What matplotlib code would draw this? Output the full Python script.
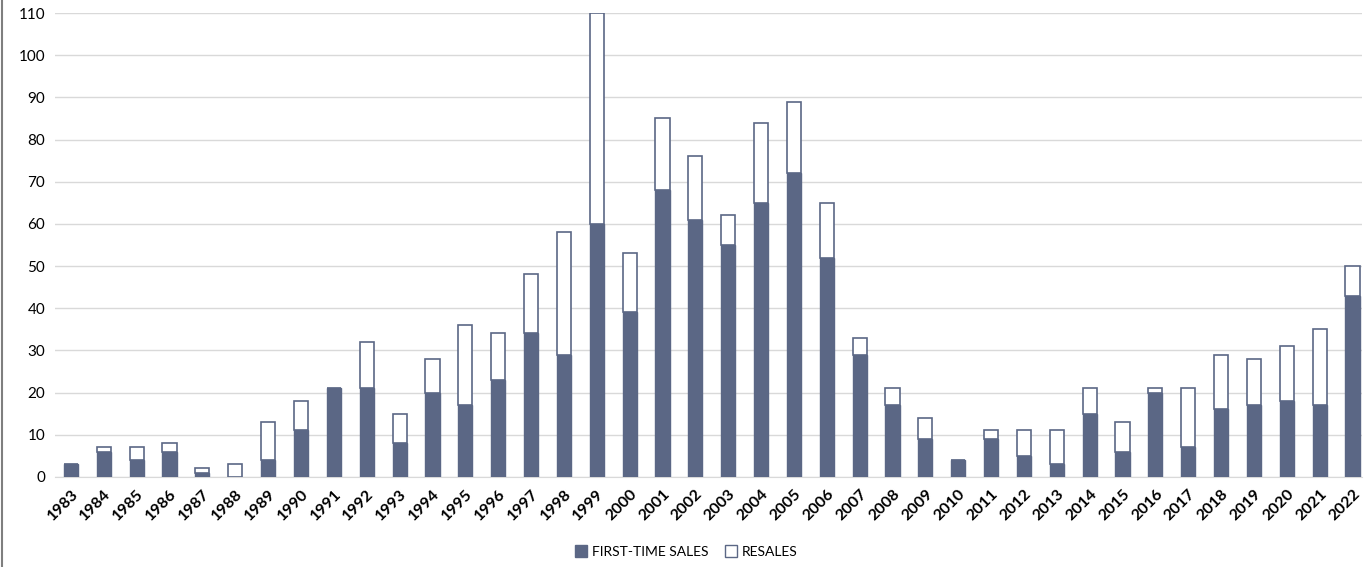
import matplotlib.pyplot as plt
from matplotlib.patches import Patch
from matplotlib.lines import Line2D
import numpy as np

years = list(range(1983, 2023))
first_time = [3, 6, 4, 6, 1, 0, 4, 11, 21, 21, 8, 20, 17, 23, 34, 29, 60, 39, 68, 61,
              55, 65, 72, 52, 29, 17, 9, 4, 9, 5, 3, 15, 6, 20, 7, 16, 17, 18, 17, 43]
totals = [3, 7, 7, 8, 2, 3, 13, 18, 21, 32, 15, 28, 36, 34, 48, 58, 110, 53, 85, 76,
          62, 84, 89, 65, 33, 21, 14, 4, 11, 11, 11, 21, 13, 21, 21, 29, 28, 31, 35, 50]
resales = [t - f for t, f in zip(totals, first_time)]

DARK = '#5B6785'
EDGE = '#5B6785'

plt.rcParams['font.family'] = ['Lato', 'DejaVu Sans']

fig = plt.figure(figsize=(13.72, 5.67), dpi=100)
ax = fig.add_axes([0.040, 0.159, 0.953, 0.818])

x = np.arange(len(years))
w = 0.43
ax.bar(x, first_time, width=w, color=DARK, edgecolor=EDGE, linewidth=1, zorder=3)
ax.bar(x, resales, width=w, bottom=first_time, color='white', edgecolor=EDGE,
       linewidth=1.2, zorder=3)

ax.set_ylim(0, 110)
ax.set_xlim(-0.49, 39.3)
ax.set_yticks(range(0, 111, 10))
ax.grid(axis='y', color='#D9D9D9', linewidth=1, zorder=0)
ax.set_axisbelow(True)

for s in ['top', 'right', 'left']:
    ax.spines[s].set_visible(False)
ax.spines['bottom'].set_color('#D9D9D9')
ax.tick_params(axis='both', length=0)
ax.tick_params(axis='y', labelsize=11, pad=7)

ax.set_xticks(x)
ax.set_xticklabels([str(y) for y in years], rotation=45, ha='right',
                   rotation_mode='anchor', fontsize=11.5, fontweight='bold')
ax.tick_params(axis='x', pad=7)

handles = [Patch(facecolor=DARK, edgecolor=EDGE, label='FIRST-TIME SALES'),
           Patch(facecolor='white', edgecolor=EDGE, label='RESALES')]
fig.legend(handles=handles, loc='center', bbox_to_anchor=(0.5, 0.027), ncol=2,
           frameon=False, fontsize=10, handlelength=0.9, handleheight=0.9,
           handletextpad=0.3, columnspacing=1.2)

# left border of the chart frame
fig.add_artist(Line2D([0.0015, 0.0015], [0, 1], transform=fig.transFigure,
                      color='#7F7F7F', linewidth=1.5))

fig.savefig('out.png', dpi=100)
